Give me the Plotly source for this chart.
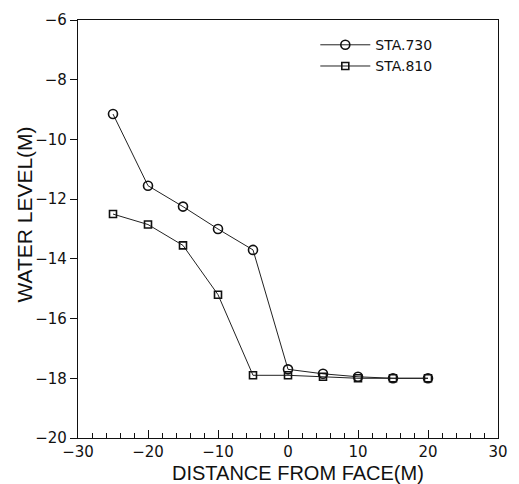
import plotly.graph_objects as go

# Data
x_sta730 = [-25, -20, -15, -10, -5, 0, 5, 10, 15, 20]
y_sta730 = [-9.15, -11.55, -12.25, -13.0, -13.7, -17.7, -17.85, -17.95, -18.0, -18.0]
x_sta810 = [-25, -20, -15, -10, -5, 0, 5, 10, 15, 20]
y_sta810 = [-12.5, -12.85, -13.55, -15.2, -17.9, -17.9, -17.95, -18.0, -18.0, -18.0]

series_names = ["STA.730", "STA.810"]
x_ticks = [-30, -20, -10, 0, 10, 20, 30]
y_ticks = [-20, -18, -16, -14, -12, -10, -8, -6]

FONT = "Liberation Sans, Arial, sans-serif"
TICKFONT = "DejaVu Sans, sans-serif"

def label(v):
    return ("\u2212" + str(abs(v))) if v < 0 else str(v)

fig = go.Figure()
fig.add_trace(go.Scatter(
    x=x_sta730, y=y_sta730, name=series_names[0], mode="lines+markers",
    line=dict(color="#222222", width=1),
    marker=dict(symbol="circle-open", size=9, color="#111111", line=dict(width=1.6)),
))
fig.add_trace(go.Scatter(
    x=x_sta810, y=y_sta810, name=series_names[1], mode="lines+markers",
    line=dict(color="#222222", width=1),
    marker=dict(symbol="square-open", size=7, color="#111111", line=dict(width=1.6)),
))

fig.update_layout(
    width=519, height=484,
    margin=dict(l=78, r=13, t=11, b=46),
    paper_bgcolor="white", plot_bgcolor="white",
    font=dict(family=FONT, color="#111111", size=15),
    showlegend=True,
    legend=dict(
        x=0.565, y=0.978, xanchor="left", yanchor="top",
        bgcolor="rgba(0,0,0,0)", borderwidth=0,
        font=dict(size=14, family=TICKFONT), itemwidth=50,
        tracegroupgap=0,
    ),
    xaxis=dict(
        range=[-30, 30], tickvals=x_ticks,
        ticktext=[label(v) for v in x_ticks],
        showgrid=False, zeroline=False,
        showline=True, linecolor="#111111", linewidth=1.3, mirror=True,
        ticks="inside", ticklen=8, tickwidth=1.2, tickcolor="#111111",
        minor=dict(dtick=2, ticks="inside", ticklen=5, tickwidth=1, tickcolor="#111111"),
        tickfont=dict(size=15, family=TICKFONT),
    ),
    yaxis=dict(
        range=[-20, -6], tickvals=y_ticks,
        ticktext=[label(v) for v in y_ticks],
        showgrid=False, zeroline=False,
        showline=True, linecolor="#111111", linewidth=1.3, mirror=True,
        ticks="outside", ticklen=7, tickwidth=1.2, tickcolor="#111111",
        tickfont=dict(size=15, family=TICKFONT),
    ),
    annotations=[
        dict(text="DISTANCE FROM FACE(M)", xref="paper", yref="paper",
             x=0.523, y=-0.083, xanchor="center", yanchor="middle",
             showarrow=False, font=dict(size=20, family=FONT)),
        dict(text="WATER LEVEL(M)", xref="paper", yref="paper",
             x=-0.128, y=0.535, xanchor="center", yanchor="middle", textangle=-90,
             showarrow=False, font=dict(size=21, family=FONT)),
    ],
)

fig.write_html("out.html")
